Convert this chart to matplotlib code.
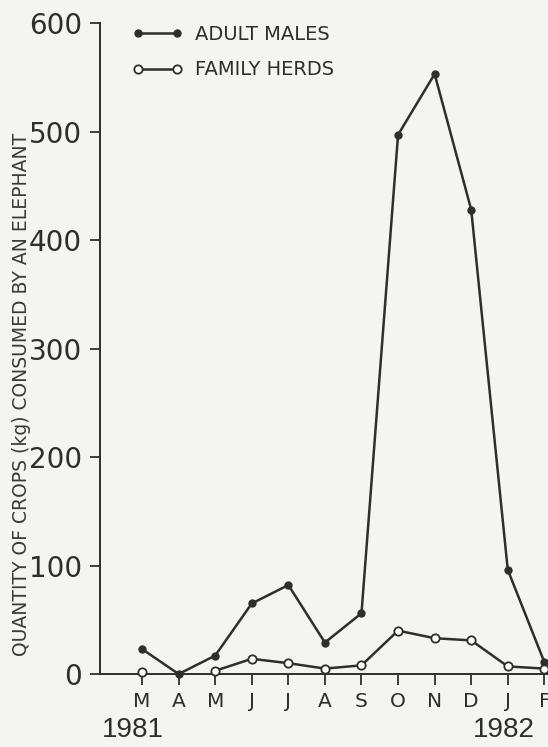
import matplotlib
matplotlib.use("Agg")
import matplotlib.pyplot as plt
import numpy as np

# monthly crop consumption per elephant (kg), Mar 1981 - Feb 1982
months = ["M", "A", "M", "J", "J", "A", "S", "O", "N", "D", "J", "F"]
adult_males = [23, 0, 17, 65, 82, 29, 56, 497, 553, 428, 96, 11]
family_herds = [2, np.nan, 3, 14, 10, 5, 8, 40, 33, 31, 7, 5]
years = ["1981", "1982"]
year_pos = [-0.25, 9.9]

ink = "#2e2e2e"
bg = "#f4f4f2"

plt.rcParams["font.family"] = ["DejaVu Sans"]
narrow = ["Liberation Sans", "DejaVu Sans"]

fig = plt.figure(figsize=(5.48, 7.47), dpi=100, facecolor=bg)
ax = fig.add_axes([0.1825, 0.0977, 0.8175, 0.8715], facecolor=bg)

x = np.arange(len(months))
ax.plot(x, adult_males, color=ink, lw=1.8, marker="o", ms=5,
        mfc=ink, mec=ink, label="ADULT MALES", clip_on=False, zorder=3)
ax.plot(x, family_herds, color=ink, lw=1.8, marker="o", ms=6,
        mfc="white", mec=ink, mew=1.3, label="FAMILY HERDS",
        clip_on=False, zorder=3)

ax.set_xlim(-1.15, 11.1)
ax.set_ylim(0, 600)
ax.set_yticks(range(0, 601, 100))
ax.set_xticks(x)
ax.set_xticklabels(months)

for s in ["top", "right"]:
    ax.spines[s].set_visible(False)
for s in ["left", "bottom"]:
    ax.spines[s].set_color(ink)
    ax.spines[s].set_linewidth(1.4)

ax.tick_params(axis="y", direction="out", length=7, width=1.3,
               color=ink, labelcolor=ink, labelsize=20, pad=6)
ax.tick_params(axis="x", direction="out", length=8, width=1.3,
               color=ink, labelcolor=ink, labelsize=14.5, pad=5)

ax.set_ylabel("QUANTITY OF CROPS (kg) CONSUMED BY AN ELEPHANT",
              fontsize=13.5, color="#3a3a3a", va="center")
ax.yaxis.set_label_coords(-0.176, 0.43)

for yr, p in zip(years, year_pos):
    ax.text(p, -0.066, yr, transform=ax.get_xaxis_transform(),
            ha="center", va="top", fontsize=20, color=ink, family=narrow)

leg = ax.legend(loc="upper left", bbox_to_anchor=(0.21, 0.99),
                bbox_transform=fig.transFigure, frameon=False,
                numpoints=2, handlelength=2.6, fontsize=14,
                labelspacing=0.85, handletextpad=0.6)
for t in leg.get_texts():
    t.set_color(ink)

fig.savefig("out.png", dpi=100, facecolor=bg)
